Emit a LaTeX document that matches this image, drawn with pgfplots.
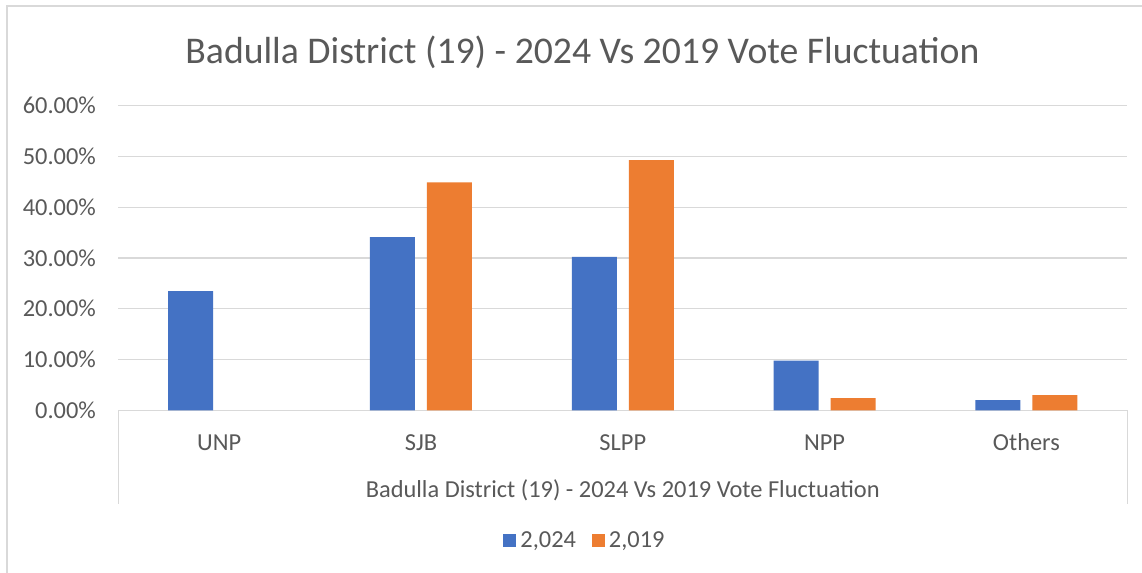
\documentclass[border=0pt]{standalone}
\usepackage{pgfplots}
\pgfplotsset{compat=1.18}
\usepackage{fontspec}
\setmainfont{Carlito}
\definecolor{cblue}{HTML}{4472C4}
\definecolor{corange}{HTML}{ED7D31}
\definecolor{txt}{HTML}{595959}
\definecolor{grd}{HTML}{D9D9D9}
\begin{document}
\begin{tikzpicture}[x=0.5pt,y=-0.5pt]
\useasboundingbox[fill=white] (0,0) rectangle (1142,573);
\draw[grd, line width=0.6pt] (7,573) -- (7,6) -- (1142,6);
\node[anchor=base, font=\fontsize{18.85}{22}\selectfont, text=txt, inner sep=0pt] at (582.5,63) {Badulla District (19) - 2024 Vs 2019 Vote Fluctuation};
\begin{axis}[
  at={(59.15pt,-205.15pt)}, anchor=south west, scale only axis,
  width=504.5pt, height=152.3pt,
  xmin=-0.5, xmax=4.5, ymin=0, ymax=60,
  ybar=6pt, bar width=22.5pt,
  xtick={0,1,2,3,4}, xticklabels={UNP,SJB,SLPP,NPP,Others},
  ytick={0,10,20,30,40,50,60},
  /pgf/number format/assume math mode=true,
  yticklabel={\pgfmathprintnumber[fixed,fixed zerofill,precision=2]{\tick}\%},
  axis line style={draw=none},
  tick style={draw=none},
  ymajorgrids, major grid style={grd, line width=0.65pt},
  tick label style={font=\fontsize{12.2}{14}\selectfont, text=txt},
  xticklabel style={anchor=base, yshift=-15.85pt, inner sep=0pt},
  yticklabel style={anchor=east, xshift=-11pt, inner sep=0pt},
  xlabel={Badulla District (19) - 2024 Vs 2019 Vote Fluctuation},
  xlabel style={at={(axis description cs:0.5,0)}, anchor=base, yshift=-43.35pt, inner sep=0pt, font=\fontsize{12.2}{14}\selectfont, text=txt},
  legend style={at={(axis description cs:0.4635,-0.429)}, anchor=center, draw=none, fill=none,
    legend columns=2, font=\fontsize{12.2}{14}\selectfont, text=txt,
    /tikz/every even column/.append style={column sep=6pt},
    legend cell align=left},
  clip=false,
]
\addplot[fill=cblue, draw=none, legend image code/.code={\fill[cblue] (0pt,-3.25pt) rectangle (6.5pt,3.25pt);}]
  coordinates {(0,23.5) (1,34.1) (2,30.2) (3,9.8) (4,2.0)};
\addplot[fill=corange, draw=none, legend image code/.code={\fill[corange] (0pt,-3.25pt) rectangle (6.5pt,3.25pt);}]
  coordinates {(1,44.9) (2,49.3) (3,2.4) (4,3.0)};
\legend{{2,024},{2,019}}
\end{axis}
\draw[grd, line width=0.65pt] (118.3,410.3) -- (118.3,504);
\draw[grd, line width=0.65pt] (1127.3,410.3) -- (1127.3,504);
\end{tikzpicture}
\end{document}
